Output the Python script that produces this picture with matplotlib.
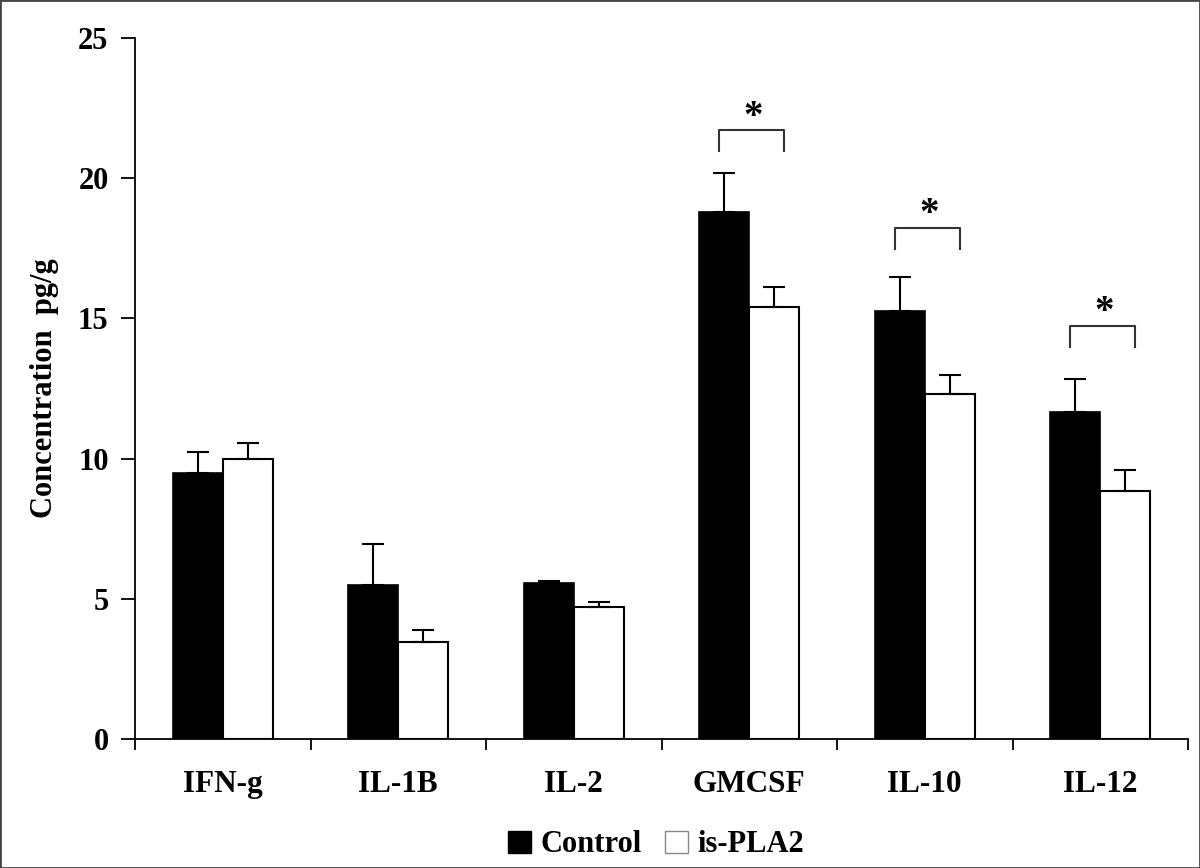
import matplotlib
matplotlib.use('Agg')
import matplotlib.pyplot as plt
from matplotlib.patches import Patch, Rectangle
import numpy as np

categories = ['IFN-g', 'IL-1B', 'IL-2', 'GMCSF', 'IL-10', 'IL-12']
control = [9.47, 5.49, 5.57, 18.78, 15.27, 11.67]
control_err = [0.78, 1.46, 0.05, 1.41, 1.20, 1.18]
pla2 = [9.98, 3.47, 4.70, 15.40, 12.30, 8.84]
pla2_err = [0.56, 0.42, 0.20, 0.71, 0.68, 0.75]
sig_groups = [3, 4, 5]
sig_heights = [21.72, 18.24, 14.74]

plt.rcParams['font.family'] = ['Liberation Serif', 'DejaVu Serif']
plt.rcParams['font.weight'] = 'bold'

fig = plt.figure(figsize=(12, 8.68), dpi=100)
ax = fig.add_axes([135 / 1200, 1 - 739 / 868, 1053 / 1200, 701 / 868])

x = np.arange(len(categories)) + 0.5
w = 0.285
ax.bar(x - w / 2, control, w, color='black', edgecolor='black', linewidth=1.2,
       yerr=[np.zeros(6), control_err], capsize=8,
       error_kw=dict(elinewidth=1.5, capthick=1.5, ecolor='black'), zorder=2)
ax.bar(x + w / 2, pla2, w, color='white', edgecolor='black', linewidth=1.5,
       yerr=[np.zeros(6), pla2_err], capsize=8,
       error_kw=dict(elinewidth=1.5, capthick=1.5, ecolor='black'), zorder=2)

# significance brackets
for g, h in zip(sig_groups, sig_heights):
    left = x[g] - 0.17
    right = x[g] + 0.20
    ax.plot([left, left, right, right], [h - 0.75, h, h, h - 0.75],
            color='#333333', linewidth=1.5, clip_on=False)
    ax.text(x[g] + 0.025, h + 0.12, '*', ha='center', va='baseline',
            fontsize=28, fontweight='bold')

ax.set_xlim(0, 6)
ax.set_ylim(0, 25)
ax.set_yticks([0, 5, 10, 15, 20, 25])
ax.tick_params(axis='y', length=10, width=1.3, pad=9, labelsize=22)
ax.set_xticks(np.arange(0, 7))
ax.set_xticklabels([])
ax.tick_params(axis='x', which='major', length=8, width=1.3)
ax.set_xticks(x, minor=True)
ax.set_xticklabels(categories, minor=True)
ax.tick_params(axis='x', which='minor', length=0, pad=22, labelsize=22.5)

for s in ['top', 'right']:
    ax.spines[s].set_visible(False)
for s in ['left', 'bottom']:
    ax.spines[s].set_linewidth(1.3)

ax.set_ylabel('Concentration  pg/g', fontsize=22, fontweight='bold', labelpad=14)

handles = [Patch(facecolor='black', edgecolor='black'),
           Patch(facecolor='white', edgecolor='#888888')]
fig.legend(handles, ['Control', 'is-PLA2'], loc='center', ncol=2,
           bbox_to_anchor=(656 / 1200, 1 - 845 / 868), frameon=False,
           prop=dict(size=22, weight='bold'), handlelength=0.75, handleheight=0.7,
           handletextpad=0.33, columnspacing=0.75)

fig.patches.append(Rectangle((0, 0), 1, 1, transform=fig.transFigure,
                             fill=False, edgecolor='#444444', linewidth=2))

plt.savefig('out.png', dpi=100)
